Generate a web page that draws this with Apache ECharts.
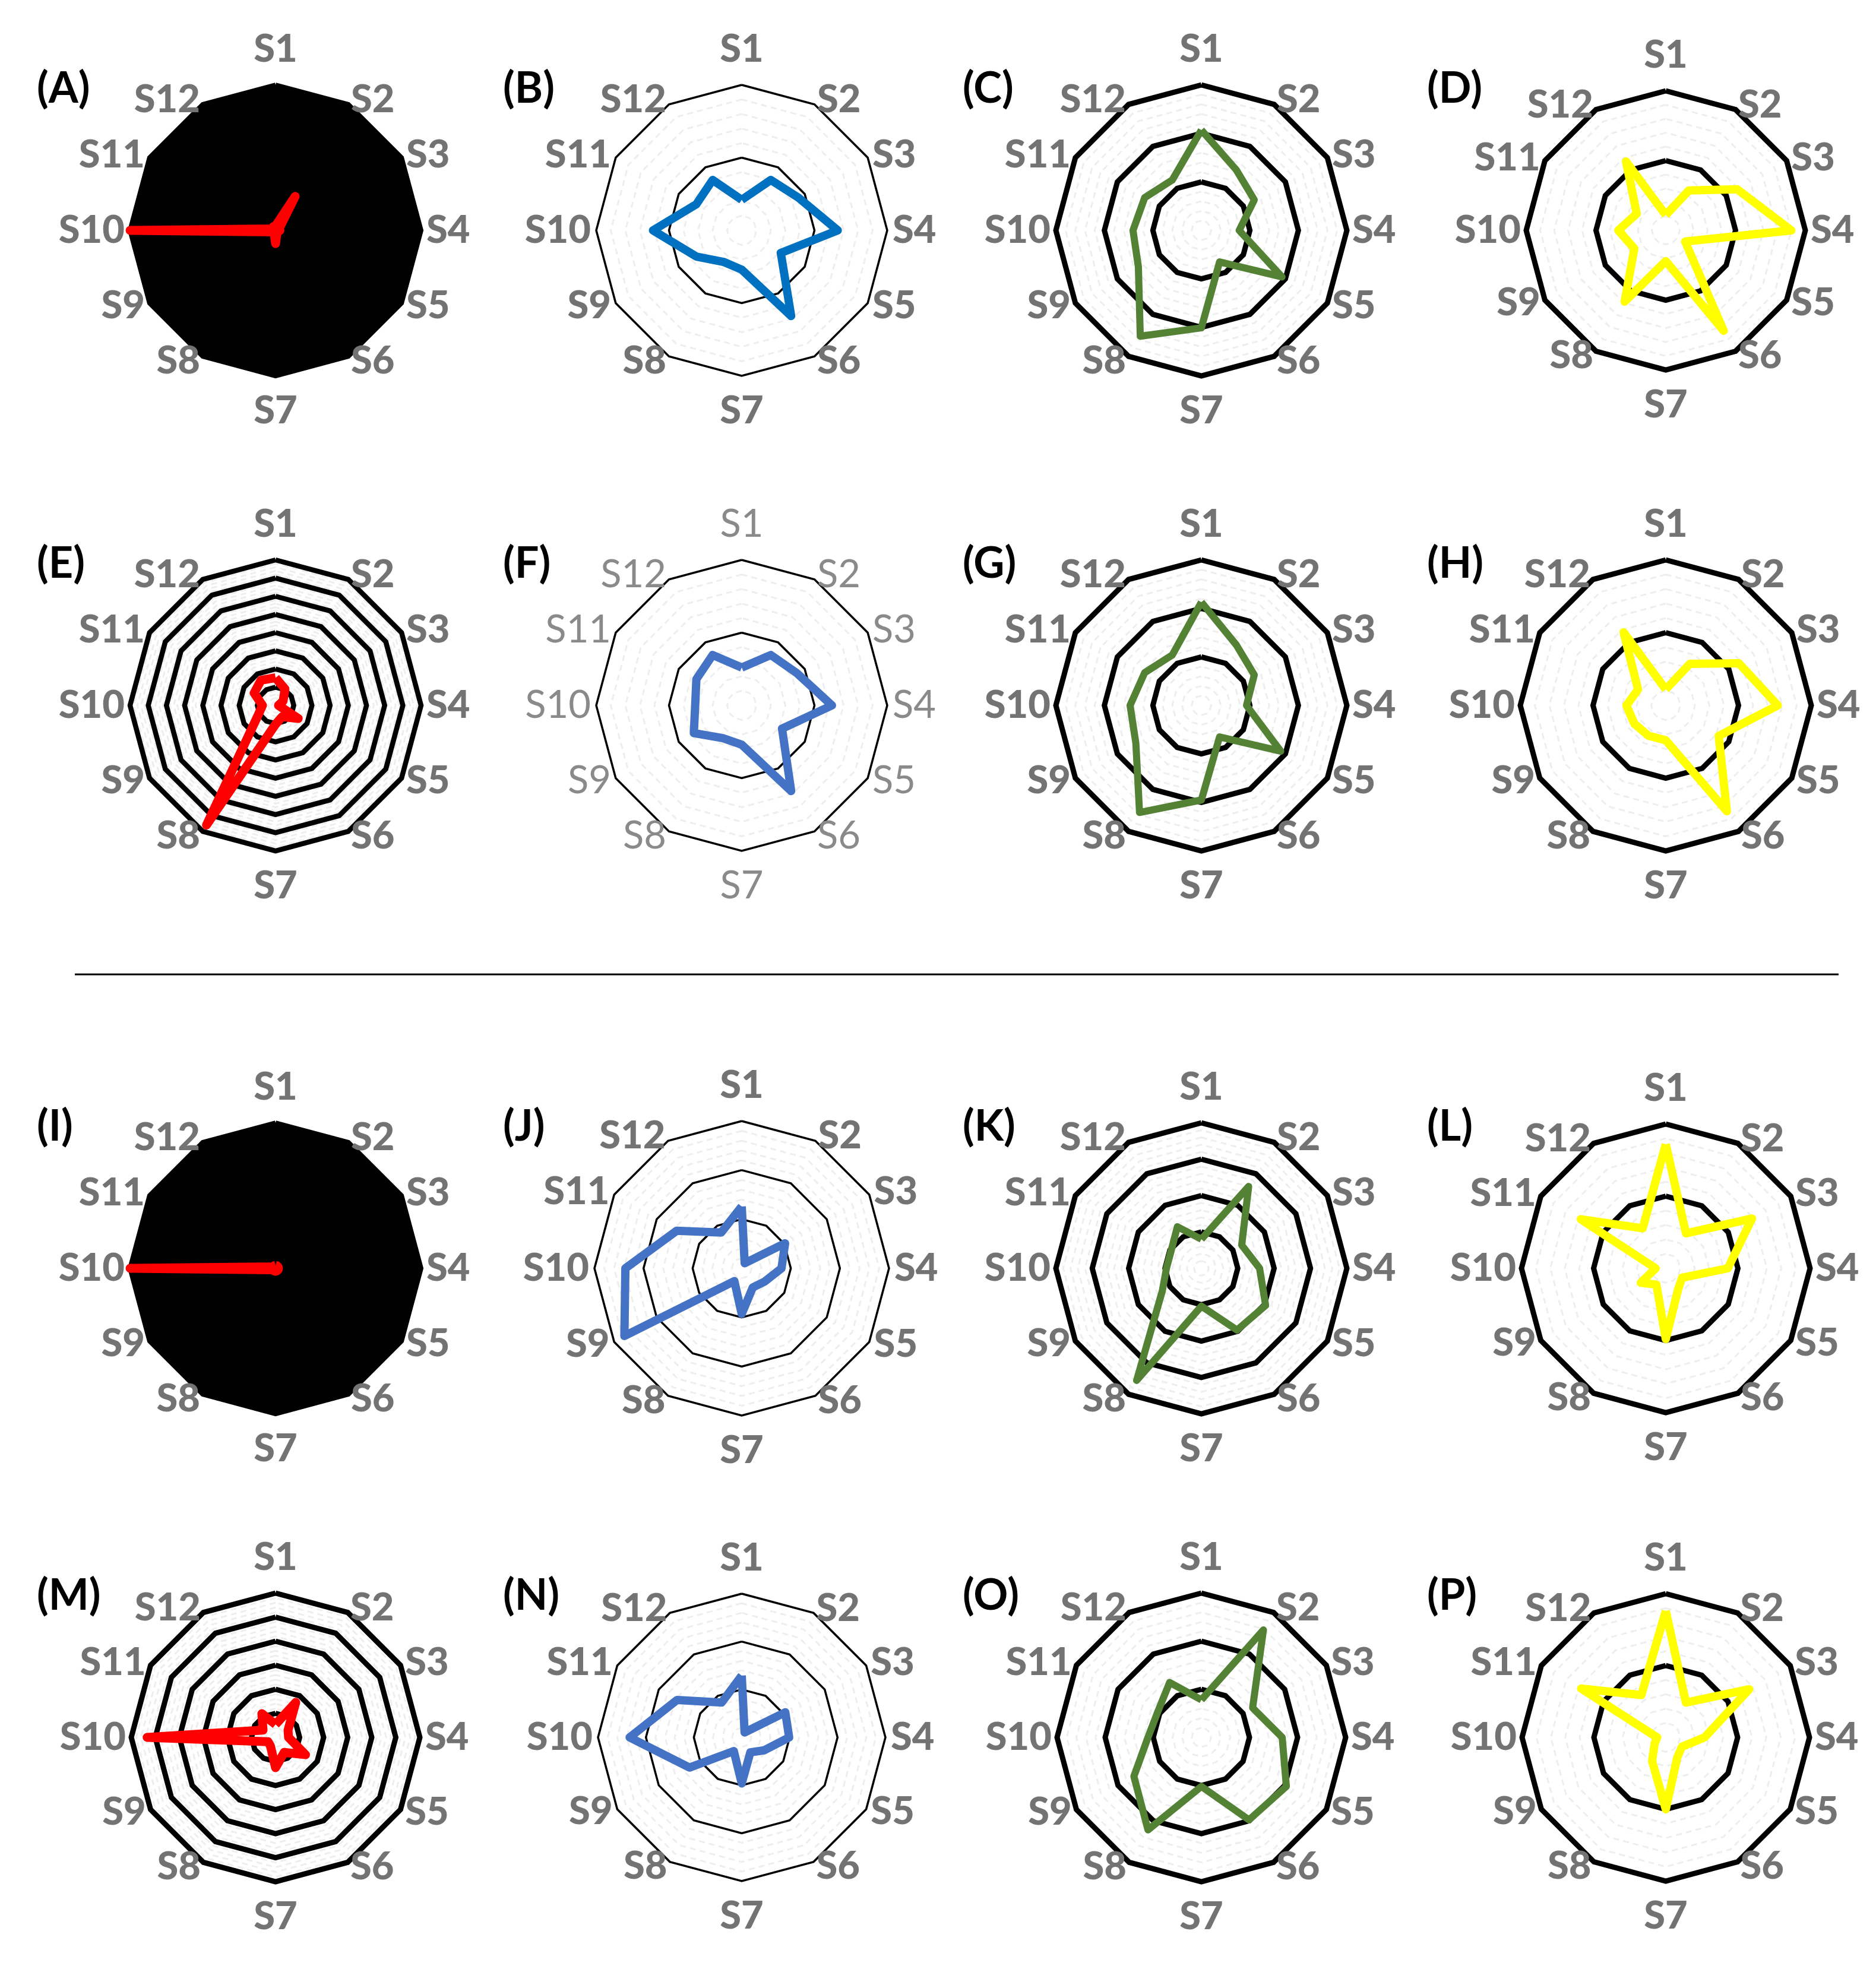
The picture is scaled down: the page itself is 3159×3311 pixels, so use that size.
<!DOCTYPE html>
<html>
<head>
<meta charset="utf-8">
<script src="https://cdn.jsdelivr.net/npm/echarts@6/dist/echarts.min.js"></script>
<style>
html,body{margin:0;padding:0;background:#fff;}
#chart{width:3159px;height:3311px;}
</style>
</head>
<body>
<div id="chart"></div>
<script>
// ---- data ----
const categories = ['S1','S2','S3','S4','S5','S6','S7','S8','S9','S10','S11','S12'];
const panelLabels = ['(A)','(B)','(C)','(D)','(E)','(F)','(G)','(H)','(I)','(J)','(K)','(L)','(M)','(N)','(O)','(P)'];
const valuesA = [0.03, 0.27, 0.03, 0.03, 0.02, 0.02, 0.09, 0.02, 0.02, 1.00, 0.02, 0.03];
const valuesB = [0.21, 0.40, 0.45, 0.66, 0.31, 0.68, 0.27, 0.25, 0.36, 0.61, 0.36, 0.40];
const valuesC = [0.69, 0.48, 0.42, 0.26, 0.64, 0.25, 0.67, 0.84, 0.50, 0.47, 0.45, 0.40];
const valuesD = [0.11, 0.33, 0.59, 0.90, 0.16, 0.83, 0.22, 0.59, 0.26, 0.34, 0.24, 0.57];
const valuesE = [0.19, 0.13, 0.06, 0.02, 0.18, 0.09, 0.13, 0.95, 0.14, 0.09, 0.17, 0.20];
const valuesF = [0.26, 0.40, 0.44, 0.62, 0.32, 0.68, 0.27, 0.26, 0.38, 0.32, 0.36, 0.40];
const valuesG = [0.71, 0.48, 0.42, 0.31, 0.63, 0.25, 0.65, 0.85, 0.52, 0.49, 0.45, 0.40];
const valuesH = [0.11, 0.33, 0.58, 0.77, 0.42, 0.84, 0.24, 0.24, 0.25, 0.27, 0.22, 0.58];
const valuesI = [0.02, 0.02, 0.02, 0.02, 0.02, 0.02, 0.02, 0.02, 0.02, 1.00, 0.02, 0.02];
const valuesJ = [0.42, 0.04, 0.34, 0.27, 0.18, 0.15, 0.31, 0.10, 0.92, 0.79, 0.51, 0.28];
const valuesK = [0.20, 0.65, 0.32, 0.40, 0.51, 0.49, 0.26, 0.89, 0.31, 0.24, 0.24, 0.33];
const valuesL = [0.86, 0.28, 0.69, 0.43, 0.13, 0.17, 0.49, 0.13, 0.20, 0.07, 0.68, 0.32];
const valuesM = [0.09, 0.28, 0.10, 0.09, 0.24, 0.12, 0.21, 0.07, 0.06, 0.89, 0.10, 0.19];
const valuesN = [0.43, 0.04, 0.35, 0.33, 0.18, 0.12, 0.32, 0.11, 0.42, 0.78, 0.52, 0.28];
const valuesO = [0.26, 0.86, 0.41, 0.56, 0.68, 0.66, 0.34, 0.74, 0.54, 0.37, 0.35, 0.44];
const valuesP = [0.88, 0.28, 0.67, 0.27, 0.13, 0.16, 0.50, 0.19, 0.09, 0.06, 0.68, 0.34];
const axisMax = 1;

// ---- layout / style (not data) ----
const allValues = [valuesA,valuesB,valuesC,valuesD,valuesE,valuesF,valuesG,valuesH,
                   valuesI,valuesJ,valuesK,valuesL,valuesM,valuesN,valuesO,valuesP];
const colX = [464, 1249, 2023, 2805];
const rowY = [388, 1188, 2136, 2926];
const majorSplits = [40,2,3,2, 8,2,3,2, 40,3,4,2, 6,3,3,2];
const ringWidth   = [8,3.5,9,9, 8.5,3.5,9,9, 8,3.5,9,9, 9,3.5,9,9];
const lineColors  = ['#FF0000','#0070C0','#548235','#FFFF00',
                     '#FF0000','#4472C4','#548235','#FFFF00',
                     '#FF0000','#4472C4','#548235','#FFFF00',
                     '#FF0000','#4472C4','#548235','#FFFF00'];
const lineWidths  = [15,14,12,14, 15,14,12,14, 15,14,12,14, 15,14,12,14];
const radii = [245,245,245,235, 245,245,245,245, 245,248,245,243, 243,242,243,242];

// ECharts radar runs counter-clockwise; reorder so S1..S12 read clockwise.
const order = [0,11,10,9,8,7,6,5,4,3,2,1];
const indicators = order.map(i => ({ name: categories[i], max: axisMax, min: 0 }));

const radars = [];
const series = [];
const graphics = [];

for (let p = 0; p < 16; p++) {
  const cx = colX[p % 4], cy = rowY[Math.floor(p / 4)];
  const r = radii[p];
  const dense = majorSplits[p] >= 40;
  // minor (dashed, light) rings
  radars.push({
    center: [cx, cy], radius: r, startAngle: 90, shape: 'polygon',
    indicator: indicators.map(d => ({ name: '', max: d.max, min: d.min })),
    splitNumber: dense ? 10 : majorSplits[p] * 5,
    axisName: { show: false },
    axisLine: { show: false }, axisTick: { show: false }, axisLabel: { show: false },
    splitArea: { show: false },
    splitLine: { show: !dense, lineStyle: { color: '#eeeeee', width: 3, type: [10, 7] } }
  });
  // major rings + names
  radars.push({
    center: [cx, cy], radius: r, startAngle: 90, shape: 'polygon',
    indicator: indicators,
    splitNumber: majorSplits[p],
    nameGap: 9,
    axisName: {
      color: p === 5 ? '#8a8a8a' : '#737373',
      fontSize: 65,
      fontWeight: p === 5 ? 'normal' : 900,
      fontFamily: 'Lato, "Open Sans", sans-serif',
      padding: [18, 0]
    },
    axisLine: { show: false }, axisTick: { show: false }, axisLabel: { show: false },
    splitArea: dense ? { show: true, areaStyle: { color: ['#000000'] } } : { show: false },
    splitLine: { show: true, lineStyle: { color: '#000000', width: ringWidth[p], type: 'solid' } }
  });
  series.push({
    type: 'radar', radarIndex: radars.length - 1, symbol: 'none', silent: true,
    lineStyle: { color: lineColors[p], width: lineWidths[p] },
    data: [{ value: order.map(i => allValues[p][i]), name: panelLabels[p] }],
    z: 5
  });
  graphics.push({
    type: 'text', x: cx - 402, y: cy - 238, z: 10,
    style: { text: panelLabels[p], font: 'bold 72px Lato, "Liberation Sans", sans-serif',
             fill: '#000', align: 'left', verticalAlign: 'middle' }
  });
}
graphics.push({
  type: 'line', shape: { x1: 126, y1: 1641, x2: 3096, y2: 1641 },
  style: { stroke: '#000', lineWidth: 3 }, z: 10
});

const chart = echarts.init(document.getElementById('chart'), null, { renderer: 'canvas' });
chart.setOption({
  animation: false,
  backgroundColor: '#ffffff',
  radar: radars,
  series: series,
  graphic: graphics
});
</script>
</body>
</html>
